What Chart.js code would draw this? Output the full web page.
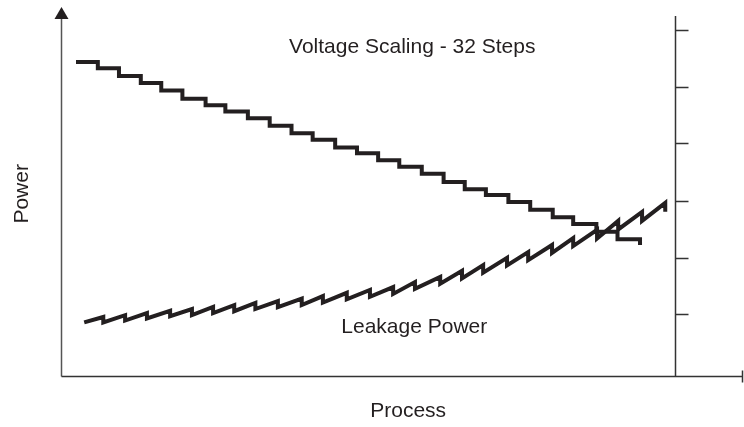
<!DOCTYPE html>
<html>
<head>
  <title>Voltage Scaling and Leakage Power</title>
  <script src="https://cdn.jsdelivr.net/npm/chart.js"></script>
  <style>
    body { margin: 0; background: #fff; }
  </style>
</head>
<body>
<canvas id="powerChart" width="744" height="427"></canvas>

<script>
  // voltage staircase: where each level starts on the process axis, and the level
  const voltageX = [2.2, 5.4, 8.5, 11.7, 14.7, 17.8, 21.2, 24.1, 27.4, 30.6, 33.8, 36.9, 40.2, 43.4,
                    46.5, 49.6, 52.9, 56.1, 59.2, 62.3, 65.6, 68.8, 72.1, 75.1, 78.5, 81.6, 84.9];
  const voltageY = [87.2, 85.5, 83.3, 81.4, 79.3, 77.0, 75.2, 73.5, 71.6, 69.5, 67.4, 65.6, 63.5, 61.9,
                    59.9, 58.1, 56.2, 53.9, 51.9, 50.3, 48.3, 46.2, 44.1, 42.2, 40.1, 38.0, 36.4];

  // leakage sawtooth: start point, then every tooth (x, top before the drop, bottom after it)
  const leakStartX = 3.4;
  const leakStartY = 14.9;
  const leakX = [6.2, 9.4, 12.6, 16.0, 19.2, 22.3, 25.4, 28.5, 31.8, 35.3, 38.4, 41.9, 45.3,
                 48.7, 51.9, 55.6, 58.8, 61.9, 65.4, 68.5, 72.0, 75.1, 78.6, 81.7, 85.2, 88.6];
  const leakTop = [16.4, 16.9, 17.5, 18.1, 18.6, 19.2, 19.7, 20.3, 20.8, 21.5, 22.2, 23.1, 23.9,
                   24.7, 26.1, 27.5, 29.2, 30.8, 32.8, 34.4, 36.4, 38.3, 40.6, 43.1, 45.6, 48.1];
  const leakBottom = [14.9, 15.4, 16.0, 16.6, 16.9, 17.5, 18.0, 18.6, 19.1, 19.7, 20.4, 21.3, 22.0,
                      22.8, 24.2, 25.6, 27.1, 28.7, 30.7, 32.2, 34.2, 36.1, 38.2, 40.7, 43.1, 45.6];

  // unlabelled ticks on the right-hand axis
  const rightAxisX = 90;
  const rightAxisTop = 100;
  const rightTicks = [17.2, 32.8, 48.6, 64.7, 80.3, 96.1];

  const ink = '#231f20';
  const font = '21px "Liberation Sans", Arial, Helvetica, sans-serif';

  const voltagePoints = voltageX.map((x, i) => ({x: x, y: voltageY[i]}));
  const leakPoints = [{x: leakStartX, y: leakStartY}];
  leakX.forEach((x, i) => {
    leakPoints.push({x: x, y: leakTop[i]});
    leakPoints.push({x: x, y: leakBottom[i]});
  });

  // hand-drawn style axes: arrow on the left, bare right axis with ticks
  const axesPlugin = {
    id: 'axesPlugin',
    beforeDatasetsDraw(chart) {
      const ctx = chart.ctx;
      const xs = chart.scales.x;
      const ys = chart.scales.y;
      const area = chart.chartArea;
      const x0 = Math.round(xs.getPixelForValue(0)) + 0.5;
      const y0 = Math.round(ys.getPixelForValue(0)) + 0.5;

      ctx.save();
      ctx.lineWidth = 1.5;
      ctx.strokeStyle = '#555';
      ctx.beginPath();
      ctx.moveTo(x0, y0);
      ctx.lineTo(x0, area.top + 10);
      ctx.stroke();

      ctx.fillStyle = ink;
      ctx.beginPath();
      ctx.moveTo(x0, area.top);
      ctx.lineTo(x0 - 7, area.top + 12);
      ctx.lineTo(x0 + 7, area.top + 12);
      ctx.closePath();
      ctx.fill();

      ctx.strokeStyle = '#333';
      ctx.beginPath();
      ctx.moveTo(x0, y0);
      ctx.lineTo(area.right, y0);
      ctx.moveTo(area.right - 0.5, y0 - 6);
      ctx.lineTo(area.right - 0.5, y0 + 6);
      ctx.stroke();

      const xr = Math.round(xs.getPixelForValue(rightAxisX)) + 0.5;
      ctx.beginPath();
      ctx.moveTo(xr, y0);
      ctx.lineTo(xr, ys.getPixelForValue(rightAxisTop));
      rightTicks.forEach(t => {
        const ty = Math.round(ys.getPixelForValue(t)) + 0.5;
        ctx.moveTo(xr, ty);
        ctx.lineTo(xr + 13, ty);
      });
      ctx.stroke();
      ctx.restore();
    },
    afterDraw(chart) {
      const ctx = chart.ctx;
      const xs = chart.scales.x;
      const ys = chart.scales.y;
      const area = chart.chartArea;

      ctx.save();
      ctx.fillStyle = ink;
      ctx.font = font;
      ctx.textAlign = 'center';
      ctx.textBaseline = 'middle';
      ctx.fillText('Voltage Scaling - 32 Steps', xs.getPixelForValue(51.5), ys.getPixelForValue(91.4));
      ctx.fillText('Leakage Power', xs.getPixelForValue(51.8), ys.getPixelForValue(13.6));
      ctx.fillText('Process', xs.getPixelForValue(50.9), area.bottom + 35);

      ctx.translate(area.left - 39, ys.getPixelForValue(50.6));
      ctx.rotate(-Math.PI / 2);
      ctx.fillText('Power', 0, 0);
      ctx.restore();
    }
  };

  new Chart(document.getElementById('powerChart'), {
    type: 'scatter',
    data: {
      datasets: [{
        label: 'Voltage Scaling',
        data: voltagePoints,
        showLine: true,
        stepped: 'before',
        borderColor: ink,
        borderWidth: 4,
        borderJoinStyle: 'miter',
        borderCapStyle: 'butt',
        pointRadius: 0
      }, {
        label: 'Leakage Power',
        data: leakPoints,
        showLine: true,
        borderColor: ink,
        borderWidth: 4,
        borderJoinStyle: 'miter',
        borderCapStyle: 'butt',
        pointRadius: 0
      }]
    },
    options: {
      responsive: false,
      animation: false,
      layout: { padding: { left: 61, right: 1, top: 7, bottom: 51 } },
      scales: {
        x: { type: 'linear', min: 0, max: 100, display: false },
        y: { type: 'linear', min: 0, max: 102.5, display: false }
      },
      plugins: {
        legend: { display: false },
        tooltip: { enabled: false }
      }
    },
    plugins: [axesPlugin]
  });
</script>

</body>
</html>
